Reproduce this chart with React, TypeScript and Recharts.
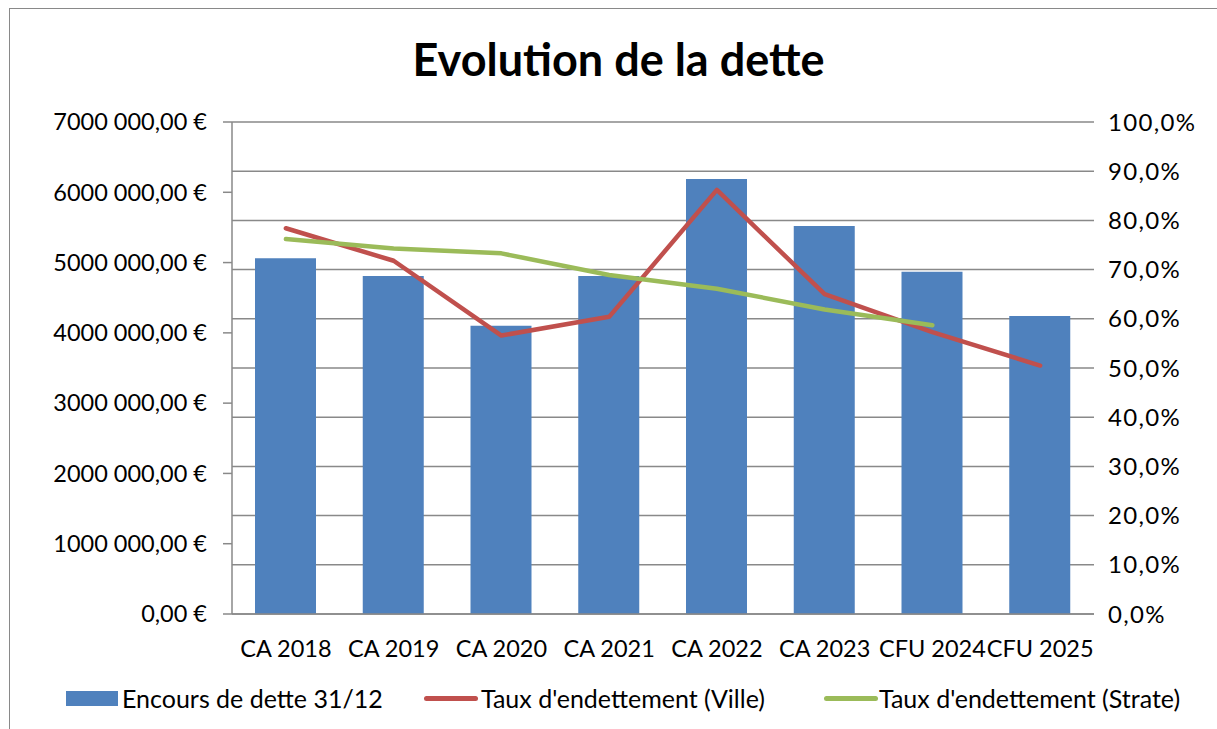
import React from 'react';
import { ComposedChart, Bar, Line, XAxis, YAxis, CartesianGrid, Legend } from 'recharts';

const categories = ['CA 2018', 'CA 2019', 'CA 2020', 'CA 2021', 'CA 2022', 'CA 2023', 'CFU 2024', 'CFU 2025'];
const encours = [5060000, 4810000, 4100000, 4810000, 6190000, 5520000, 4870000, 4240000];
const tauxVille = [0.784, 0.718, 0.566, 0.604, 0.862, 0.650, 0.573, 0.505];
const tauxStrate: (number | null)[] = [0.762, 0.743, 0.733, 0.689, 0.661, 0.619, 0.587, null];
const leftTicks = [0, 1000000, 2000000, 3000000, 4000000, 5000000, 6000000, 7000000];
const rightTicks = [0, 0.1, 0.2, 0.3, 0.4, 0.5, 0.6, 0.7, 0.8, 0.9, 1.0];

const seriesNames = {
  encours: 'Encours de dette 31/12',
  ville: "Taux d'endettement (Ville)",
  strate: "Taux d'endettement (Strate)",
};

const data = categories.map((c, i) => ({
  name: c,
  encours: encours[i],
  ville: tauxVille[i],
  strate: tauxStrate[i],
}));

const FONT = 'Lato, "Open Sans", sans-serif';
const BLUE = '#4F81BD';
const RED = '#C0504D';
const GREEN = '#9BBB59';
const GRID = '#898989';

const fmtEuro = (v: number) => {
  const thousands = Math.floor(v / 1000);
  const rest = v % 1000;
  if (thousands > 0) return `${thousands} ${String(rest).padStart(3, '0')},00 €`;
  return `${rest},00 €`;
};
const fmtPct = (v: number) => `${(v * 100).toFixed(1).replace('.', ',')}%`;

const legendText: React.CSSProperties = { position: 'absolute', top: -6, whiteSpace: 'nowrap', lineHeight: '30px' };

const LegendContent = () => (
  <div style={{ position: 'relative', height: 40, fontFamily: FONT, fontSize: 25, color: '#000' }}>
    <div style={{ position: 'absolute', left: 66, top: 2, width: 52, height: 15, background: BLUE }} />
    <div style={{ ...legendText, left: 122 }}>{seriesNames.encours}</div>
    <div style={{ position: 'absolute', left: 424, top: 7, width: 54, height: 5, borderRadius: 3, background: RED }} />
    <div style={{ ...legendText, left: 481 }}>{seriesNames.ville}</div>
    <div style={{ position: 'absolute', left: 824, top: 7, width: 54, height: 5, borderRadius: 3, background: GREEN }} />
    <div style={{ ...legendText, left: 879 }}>{seriesNames.strate}</div>
  </div>
);

export default function App() {
  return (
    <div style={{ position: 'fixed', left: 0, top: 0, width: 1217, height: 729, background: '#fff', overflow: 'hidden' }}>
      <div style={{ position: 'absolute', left: 9, top: 8, width: 1230, height: 740, border: `1.5px solid ${GRID}`, boxSizing: 'border-box' }} />
      <div style={{ position: 'absolute', left: 0, top: 27, width: 1237, textAlign: 'center', fontFamily: FONT, fontWeight: 700, fontSize: 45, color: '#000', lineHeight: '64px' }}>
        Evolution de la dette
      </div>
      <div style={{ position: 'absolute', left: 0, top: 0 }}>
        <ComposedChart width={1217} height={729} data={data} margin={{ top: 122, right: 0, left: 0, bottom: 0 }}>
          <CartesianGrid yAxisId="right" vertical={false} horizontal stroke={GRID} strokeWidth={1.5} />
          <XAxis
            dataKey="name"
            height={75}
            tickSize={0}
            tickMargin={26}
            axisLine={{ stroke: GRID, strokeWidth: 1.5 }}
            tickLine={false}
            tick={{ fill: '#000', fontFamily: FONT, fontSize: 23.5 }}
            interval={0}
          />
          <YAxis
            yAxisId="left"
            orientation="left"
            width={232}
            domain={[0, 7000000]}
            ticks={leftTicks}
            tickFormatter={fmtEuro}
            tickSize={9}
            tickMargin={16}
            axisLine={{ stroke: GRID, strokeWidth: 1.5 }}
            tickLine={{ stroke: GRID, strokeWidth: 1.5 }}
            tick={{ fill: '#000', fontFamily: FONT, fontSize: 23.5 }}
            interval={0}
          />
          <YAxis
            yAxisId="right"
            orientation="right"
            width={123}
            domain={[0, 1]}
            ticks={rightTicks}
            tickFormatter={fmtPct}
            tickSize={0}
            tickMargin={14}
            axisLine={false}
            tickLine={false}
            tick={{ fill: '#000', fontFamily: FONT, fontSize: 24, letterSpacing: 1.3, textAnchor: 'start' }}
            interval={0}
          />
          <Legend verticalAlign="bottom" height={40} content={() => <LegendContent />} />
          <Bar yAxisId="left" dataKey="encours" name={seriesNames.encours} fill={BLUE} barSize={61} isAnimationActive={false} />
          <Line yAxisId="right" type="linear" dataKey="ville" name={seriesNames.ville} stroke={RED} strokeWidth={4.5} strokeLinecap="round" strokeLinejoin="round" dot={false} activeDot={false} isAnimationActive={false} />
          <Line yAxisId="right" type="linear" dataKey="strate" name={seriesNames.strate} stroke={GREEN} strokeWidth={4.5} strokeLinecap="round" strokeLinejoin="round" dot={false} activeDot={false} isAnimationActive={false} />
        </ComposedChart>
      </div>
    </div>
  );
}
